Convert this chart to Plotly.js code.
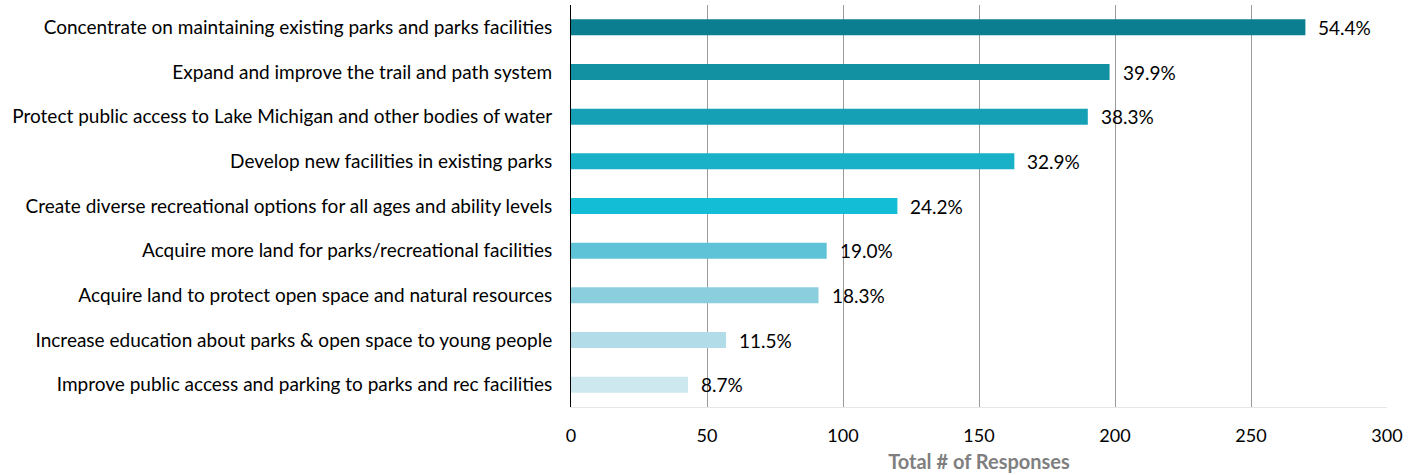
<!DOCTYPE html>
<html>
<head>
<meta charset="utf-8">
<script src="https://cdn.plot.ly/plotly-3.0.1.min.js"></script>
<style>html,body{margin:0;padding:0;background:#fff;}#chart{width:1418px;height:475px;}</style>
</head>
<body>
<div id="chart"></div>
<script>
const categories = [
  "Concentrate on maintaining existing parks and parks facilities",
  "Expand and improve the trail and path system",
  "Protect public access to Lake Michigan and other bodies of water",
  "Develop new facilities in existing parks",
  "Create diverse recreational options for all ages and ability levels",
  "Acquire more land for parks/recreational facilities",
  "Acquire land to protect open space and natural resources",
  "Increase education about parks & open space to young people",
  "Improve public access and parking to parks and rec facilities"
];
const responses = [270, 198, 190, 163, 120, 94, 91, 57, 43];
const percentLabels = ["54.4%", "39.9%", "38.3%", "32.9%", "24.2%", "19.0%", "18.3%", "11.5%", "8.7%"];
const barColors = ["#0b7f8f", "#1191a2", "#15a0b5", "#19b1c8", "#13bdd5", "#5ec3d7", "#8bcfdf", "#b2dde8", "#cde8ef"];
const xTickValues = [0, 50, 100, 150, 200, 250, 300];

const font = "Lato, 'Open Sans', sans-serif";
const trace = {
  type: "bar",
  orientation: "h",
  y: categories,
  x: responses,
  marker: {color: barColors, line: {width: 0}},
  width: 0.36,
  hoverinfo: "none"
};
const annotations = categories.map((c, i) => ({
  x: responses[i], y: c, xref: "x", yref: "y",
  text: percentLabels[i], showarrow: false,
  xanchor: "left", yanchor: "middle", xshift: 11,
  font: {family: font, size: 19, color: "#000"}
}));
const layout = {
  width: 1418, height: 475,
  margin: {l: 571, r: 31, t: 5, b: 68},
  paper_bgcolor: "#fff", plot_bgcolor: "#fff",
  showlegend: false,
  font: {family: font, size: 19, color: "#000"},
  annotations: annotations,
  xaxis: {
    range: [0, 300],
    tickvals: xTickValues,
    showgrid: true, gridcolor: "#9a9a9a", gridwidth: 1,
    zeroline: false,
    showline: true, linecolor: "#e6e6e6", linewidth: 1,
    ticks: "", ticklabelstandoff: 12,
    tickfont: {family: font, size: 18, color: "#000"},
    title: {text: "<b>Total # of Responses</b>", font: {family: font, size: 20, color: "#7f7f7f"}, standoff: 10}
  },
  yaxis: {
    type: "category",
    autorange: "reversed",
    showline: true, linecolor: "#000", linewidth: 1,
    showgrid: false, ticks: "",
    ticklabelstandoff: 14,
    tickfont: {family: font, size: 19, color: "#000"}
  },
  bargap: 0.64
};
Plotly.newPlot("chart", [trace], layout, {staticPlot: true, displayModeBar: false});
</script>
</body>
</html>
